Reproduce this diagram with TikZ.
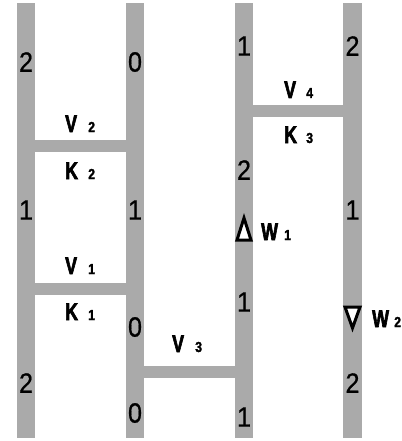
\documentclass[tikz,border=0pt]{standalone}
\usepackage{fontspec}
\setmainfont{Liberation Sans}
\newfontfamily\digitfont[FakeStretch=0.9,FakeBold=0.6]{Liberation Sans}
\newfontfamily\letterfont[FakeStretch=0.74,FakeBold=2.5]{Liberation Sans Bold}
\newfontfamily\subfont[FakeStretch=0.85,FakeBold=1.5]{Liberation Sans Bold}
\definecolor{barcol}{RGB}{170,170,170}
\begin{document}
\begin{tikzpicture}[x=1pt,y=-1pt,
  digit/.style={font=\digitfont\fontsize{28}{28}\selectfont, inner sep=0pt},
  lab/.style={font=\letterfont\fontsize{24}{24}\selectfont, inner sep=0pt, anchor=base west},
  sublab/.style={font=\subfont\fontsize{14.5}{14.5}\selectfont, inner sep=0pt, anchor=base west},
  tri/.style={draw=black, line width=3pt, fill=white, line join=miter}]
\useasboundingbox (0,0) rectangle (401,441);
% vertical bars
\fill[barcol] (17,3) rectangle (35,438);
\fill[barcol] (126,3) rectangle (144,438);
\fill[barcol] (235,3) rectangle (253,438);
\fill[barcol] (343,3) rectangle (362,438);
% horizontal bars
\fill[barcol] (35,140) rectangle (126,152);
\fill[barcol] (35,283) rectangle (126,295);
\fill[barcol] (253,105) rectangle (343,117);
\fill[barcol] (144,366) rectangle (235,378);
% digits
\node[digit] (a1) at (26,62) {2};
\node[digit] (a2) at (26,210) {1};
\node[digit] (a3) at (26,383) {2};
\node[digit] (b1) at (135,62) {0};
\node[digit] (b2) at (135,210) {1};
\node[digit] (b3) at (135,327) {0};
\node[digit] (b4) at (135,413) {0};
\node[digit] (c1) at (244,46) {1};
\node[digit] (c2) at (244,170) {2};
\node[digit] (c3) at (244,302) {1};
\node[digit] (c4) at (244,417) {1};
\node[digit] (d1) at (352.5,46) {2};
\node[digit] (d2) at (352.5,210) {1};
\node[digit] (d3) at (352.5,383) {2};
% labels
\node[lab] (v2) at (65,132) {V};
\node[sublab] (v2s) at (88,132) {2};
\node[lab] (k2) at (65,179) {K};
\node[sublab] (k2s) at (88,179) {2};
\node[lab] (v1) at (65,274) {V};
\node[sublab] (v1s) at (88,274) {1};
\node[lab] (k1) at (65,320) {K};
\node[sublab] (k1s) at (88,320) {1};
\node[lab] (v4) at (284,98) {V};
\node[sublab] (v4s) at (306,98) {4};
\node[lab] (k3) at (284,143) {K};
\node[sublab] (k3s) at (306,143) {3};
\node[lab] (v3) at (172,352) {V};
\node[sublab] (v3s) at (195,352) {3};
\node[lab] (w1) at (261,240) {W};
\node[sublab] (w1s) at (284,240) {1};
\node[lab] (w2) at (372,327) {W};
\node[sublab] (w2s) at (394,327) {2};
% triangles
\draw[tri] (244,218) -- (251,240) -- (237,240) -- cycle;
\draw[tri] (345,307) -- (360,307) -- (352.5,328) -- cycle;
\end{tikzpicture}
\end{document}
